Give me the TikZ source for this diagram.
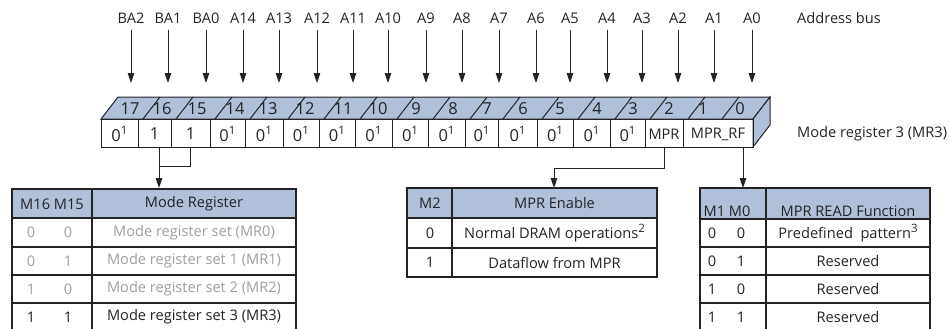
\documentclass[tikz,border=0pt]{standalone}
\usepackage{fontspec}
\setmainfont{Open Sans}
\usetikzlibrary{arrows.meta}
\definecolor{hdr}{RGB}{176,192,217}
\definecolor{ln}{RGB}{35,35,35}
\definecolor{gtx}{RGB}{158,158,158}
\newcommand\mysup[1]{\raisebox{0.42em}{\fontsize{11.5bp}{12bp}\selectfont #1}}
\newcommand\zsup{0\mysup{1}}
\begin{document}
\begin{tikzpicture}[x=1bp,y=-1bp,
  txt/.style={inner sep=0pt, text=ln, font=\fontsize{14.6bp}{16bp}\selectfont},
  big/.style={inner sep=0pt, text=ln, font=\fontsize{16.5bp}{18bp}\selectfont},
  gry/.style={txt, text=gtx},
  cell/.style={draw=ln, line width=1bp, minimum height=28bp, inner sep=0pt},
  tbl/.style={draw=ln, line width=1.1bp},
  arr/.style={draw=ln, line width=1bp, -{Triangle[length=10bp,width=6.5bp]}},
  wire/.style={draw=ln, line width=1bp}]
\useasboundingbox (0,0) rectangle (950,328);

% address bus labels and arrows
\foreach \n/\x in {BA2/131,BA1/168,BA0/206,A14/243,A13/279,A12/317,A11/353,A10/388,A9/426,A8/462,A7/499,A6/536,A5/570,A4/607,A3/642,A2/678,A1/714,A0/752}{
  \node[txt, anchor=base] (L\n) at (\x,23) {\n};
  \coordinate (T\n) at (\x,83);
  \draw[arr, shorten <=7bp] (L\n.south) -- (T\n);
}
\node[txt, anchor=base west] (busl) at (797,23) {Address bus};

% register 3D top strip and right face
\draw[wire, fill=hdr] (101,119) -- (118,97) -- (770,97) -- (753,119) -- cycle;
\draw[wire, fill=hdr] (753,119) -- (770,97) -- (770,125) -- (753,147) -- cycle;
\foreach \d in {138,171,210,245,283,319,355,392,428,465,498,537,573,610,645,683,717}{
  \draw[wire] (\d+5,119) -- (\d+22,97);
}
\foreach \b/\x in {17/130,16/162,15/197,14/235,13/268,12/305,11/343,10/378,9/416,8/453,7/487,6/523,5/560,4/597,3/633,2/669,1/703,0/740}{
  \node[big] (N\b) at (\x,108.5) {\b};
}

% register front cells
\foreach \b/\l/\r/\t/\s in {17/101/138/\zsup/big,16/138/171/1/big,15/171/210/1/big,14/210/245/\zsup/big,13/245/283/\zsup/big,12/283/319/\zsup/big,11/319/355/\zsup/big,10/355/392/\zsup/big,9/392/428/\zsup/big,8/428/465/\zsup/big,7/465/498/\zsup/big,6/498/537/\zsup/big,5/537/573/\zsup/big,4/573/610/\zsup/big,3/610/645/\zsup/big,MPR/645/683/MPR/txt,RF/683/753/MPR\_RF/txt}{
  \pgfmathsetmacro\w{\r-\l}
  \node[cell, minimum width=\w bp] (c\b) at ({(\l+\r)/2},133) {};
  \node[\s] (v\b) at ({(\l+\r)/2},134) {\t};
}
\node[txt, anchor=base west] (regl) at (797,137) {Mode register 3 (MR3)};

% connectors
\coordinate (j15) at (159,166);
\coordinate (tab1top) at (159,188);
\coordinate (jm) at (554,168);
\coordinate (tab2top) at (554,188);
\coordinate (tab3top) at (743,188);
\draw[wire] (c15.south) |- (j15);
\draw[arr] (c16.south -| j15) -- (tab1top);
\draw[arr] (cMPR.south) |- (jm) -- (tab2top);
\draw[arr] (cRF.south -| tab3top) -- (tab3top);

% table 1
\fill[hdr] (12,189) rectangle (296,218);
\draw[tbl] (12,189) rectangle (296,334);
\draw[tbl] (12,218) -- (296,218) (12,247) -- (296,247) (12,275) -- (296,275) (12,303) -- (296,303);
\draw[tbl] (92,189) -- (92,334);
\node[txt] (t1h1) at (52,204) {M16\ M15};
\node[txt] (t1h2) at (194,204) {Mode Register};
\node[gry] (t1a1) at (31,232.5) {0}; \node[gry] (t1b1) at (68,232.5) {0};
\node[gry] (t1c1) at (194,232.5) {Mode register set (MR0)};
\node[gry] (t1a2) at (31,261) {0}; \node[gry] (t1b2) at (68,261) {1};
\node[gry] (t1c2) at (194,261) {Mode register set 1 (MR1)};
\node[gry] (t1a3) at (31,289) {1}; \node[gry] (t1b3) at (68,289) {0};
\node[gry] (t1c3) at (194,289) {Mode register set 2 (MR2)};
\node[txt] (t1a4) at (31,317) {1}; \node[txt] (t1b4) at (68,317) {1};
\node[txt] (t1c4) at (194,317) {Mode register set 3 (MR3)};

% table 2
\fill[hdr] (407,188) rectangle (657,218);
\draw[tbl] (407,188) rectangle (657,277);
\draw[tbl] (407,218) -- (657,218) (407,248) -- (657,248);
\draw[tbl] (452,188) -- (452,277);
\node[txt] (t2h1) at (430,203) {M2};
\node[txt] (t2h2) at (554.5,203) {MPR Enable};
\node[txt] (t2a1) at (430,233) {0};
\node[txt] (t2b1) at (554.5,233) {Normal DRAM operations\mysup{2}};
\node[txt] (t2a2) at (430,262.5) {1};
\node[txt] (t2b2) at (554.5,262.5) {Dataflow from MPR};

% table 3
\fill[hdr] (700,188) rectangle (930,219);
\draw[tbl] (700,188) rectangle (930,334);
\draw[tbl] (700,219) -- (930,219) (700,247) -- (930,247) (700,275) -- (930,275) (700,303) -- (930,303);
\draw[tbl] (766,188) -- (766,334);
\node[txt] (t3h1) at (727,211) {M1\ M0};
\node[txt] (t3h2) at (848,211) {MPR READ Function};
\node[txt] (t3a1) at (712,233) {0}; \node[txt] (t3b1) at (741,233) {0};
\node[txt] (t3c1) at (848,233) {Predefined\ \ pattern\mysup{3}};
\node[txt] (t3a2) at (712,261) {0}; \node[txt] (t3b2) at (741,261) {1};
\node[txt] (t3c2) at (848,261) {Reserved};
\node[txt] (t3a3) at (712,289) {1}; \node[txt] (t3b3) at (741,289) {0};
\node[txt] (t3c3) at (848,289) {Reserved};
\node[txt] (t3a4) at (712,317) {1}; \node[txt] (t3b4) at (741,317) {1};
\node[txt] (t3c4) at (848,317) {Reserved};
\end{tikzpicture}
\end{document}
